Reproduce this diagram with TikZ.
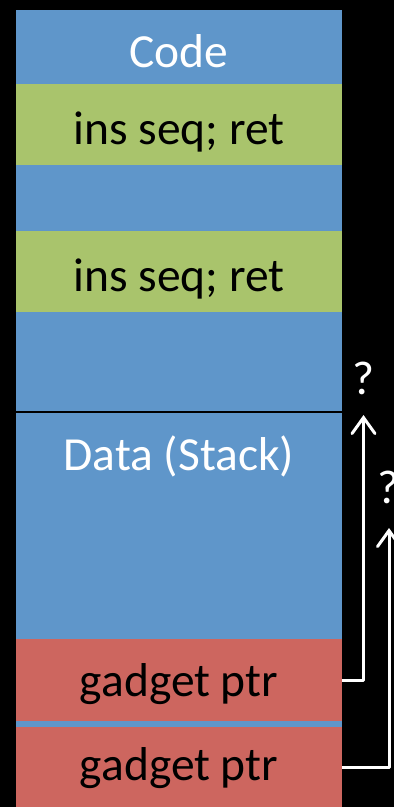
\documentclass[tikz,border=0pt]{standalone}
\usepackage{fontspec}
\setmainfont{Carlito}
\usetikzlibrary{arrows.meta}

\definecolor{segblue}{HTML}{5F96CA}
\definecolor{insgreen}{HTML}{A9C46C}
\definecolor{ptrred}{HTML}{CD665F}

\tikzset{
    region/.style={rectangle, inner sep=0pt, outer sep=0pt, anchor=north west,
        minimum width=326pt, fill=#1},
    label/.style={anchor=base, inner sep=0pt, font=\fontsize{47.5}{57}\selectfont},
    ptr/.style={white, line width=3pt, line join=round,
        -{Straight Barb[length=16pt, width=23pt, line cap=round]}}
}

\begin{document}
\begin{tikzpicture}[x=1pt, y=-1pt]
        \fill[black] (0, 0) rectangle (394, 807);
        \useasboundingbox (0, 0) rectangle (394, 807);

        % code segment
        \node[region=segblue, minimum height=402pt] (codeseg) at (16, 10) {};
        \node[region=insgreen, minimum height=81pt] (insA) at (16, 84) {};
        \node[region=insgreen, minimum height=81pt] (insB) at (16, 231) {};

        % data segment
        \node[region=segblue, minimum height=394pt] (dataseg) at (16, 413) {};
        \node[region=ptrred, minimum height=82pt] (gadgetA) at (16, 639) {};
        \node[region=ptrred, minimum height=80pt] (gadgetB) at (16, 727) {};
        \draw[black, line width=1.5pt] (codeseg.south west) -- (codeseg.south east);

        \node[label, white] (codetext) at (179, 67.7) {Code};
        \node[label] (insAtext) at (179, 144.3) {ins seq; ret};
        \node[label] (insBtext) at (179, 291) {ins seq; ret};
        \node[label, white] (datatext) at (179, 470.7) {Data (Stack)};
        \node[label] (gadgetAtext) at (179, 696.7) {gadget ptr};
        \node[label] (gadgetBtext) at (179, 780) {gadget ptr};

        % return targets
        \coordinate (tipA) at (363.5, 415);
        \coordinate (tipB) at (389, 528);
        \draw[ptr] (gadgetA.east) -| (tipA);
        \draw[ptr] (gadgetB.east) -| (tipB);
        \node[label, white] (askA) at (363.5, 394) {?};
        \node[label, white] (askB) at (389, 503) {?};
    \end{tikzpicture}
\end{document}
